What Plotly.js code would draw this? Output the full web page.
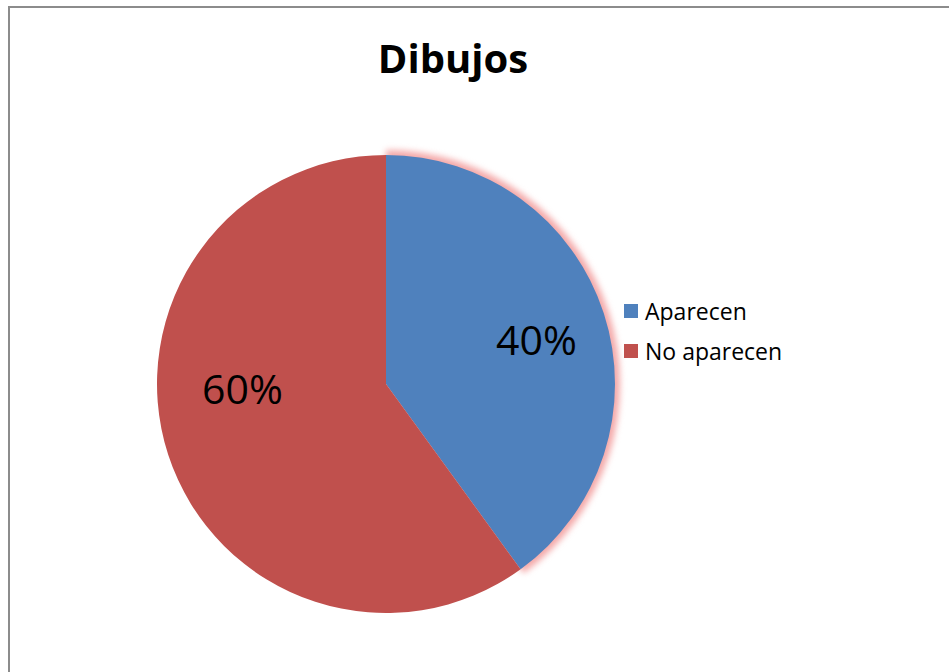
<!DOCTYPE html>
<html><head><meta charset="utf-8">
<script src="https://cdn.plot.ly/plotly-3.0.1.min.js"></script>
<style>
html,body{margin:0;padding:0;background:#fff;}
#wrap{position:relative;width:949px;height:672px;overflow:hidden;}
#frame{position:absolute;left:8px;top:6px;width:960px;height:700px;border:2px solid #8c8c8c;box-sizing:border-box;pointer-events:none;}
#chart{position:absolute;left:0;top:0;width:949px;height:672px;}
</style></head>
<body>
<div id="wrap"><div id="chart"></div><div id="frame"></div></div>
<script>
const chartTitle = "Dibujos";
const categories = ["Aparecen", "No aparecen"];
const values = [40, 60];
const colors = ["#4f81bd", "#c0504d"];

const FONT = 'Open Sans, Liberation Sans, sans-serif';
const W = 949, H = 672;
const cx = 386, cy = 384, r = 229;
const dom = {x:[(cx-r)/W,(cx+r)/W], y:[1-(cy+r)/H, 1-(cy-r)/H]};
const g = 5;
const domGlow = {x:[(cx-r-g)/W,(cx+r+g)/W], y:[1-(cy+r+g)/H, 1-(cy-r-g)/H]};

const total = values.reduce((a,b)=>a+b,0);
const annotations = [];
const shapes = [];
let acc = 0;
const radFactor = [0.684, 0.629];
const angShift = [1.3, 16.4];
values.forEach((v,i)=>{
  const mid = (acc + v/2)/total*360 + angShift[i];
  acc += v;
  const a = mid*Math.PI/180;
  const px = cx + Math.sin(a)*r*radFactor[i];
  const py = cy - Math.cos(a)*r*radFactor[i];
  annotations.push({x:px/W, y:1-py/H, xref:'paper', yref:'paper', showarrow:false,
    xanchor:'center', yanchor:'middle',
    text: Math.round(v/total*100)+'%', font:{family:FONT, size:41, color:'#000'}});
});
// legend
categories.forEach((c,i)=>{
  const ly = 311 + i*40;
  shapes.push({type:'rect', xref:'paper', yref:'paper', x0:624/W, x1:638/W, y0:1-(ly+7)/H, y1:1-(ly-7)/H,
    fillcolor:colors[i], line:{width:0}});
  annotations.push({x:643/W, y:1-ly/H, xref:'paper', yref:'paper', showarrow:false, xanchor:'left', yanchor:'middle',
    text:c, font:{family:FONT, size:23, color:'#000'}});
});

const data = [
  {type:'pie', values:values, labels:categories, sort:false, direction:'clockwise', rotation:0,
   domain:domGlow, marker:{colors:['rgba(240,140,140,0.75)','rgba(0,0,0,0)'], line:{width:0}},
   textinfo:'none', hoverinfo:'skip', showlegend:false},
  {type:'pie', values:values, labels:categories, sort:false, direction:'clockwise', rotation:0,
   domain:dom, marker:{colors:colors, line:{width:0}}, textinfo:'none', showlegend:false}
];
const layout = {
  width:W, height:H, margin:{l:0,r:0,t:0,b:0}, paper_bgcolor:'#fff',
  title:{text:'<b>'+chartTitle+'</b>', x:453/W, xanchor:'center', y:1-59/H, yanchor:'middle',
    font:{family:FONT, size:40, color:'#000'}},
  showlegend:false,
  annotations:annotations, shapes:shapes
};
Plotly.newPlot('chart', data, layout, {displayModeBar:false}).then(()=>{
  const tr = document.querySelectorAll('.pielayer .trace')[0];
  if (tr) tr.style.filter = 'blur(3px)';
});
</script>
</body></html>
